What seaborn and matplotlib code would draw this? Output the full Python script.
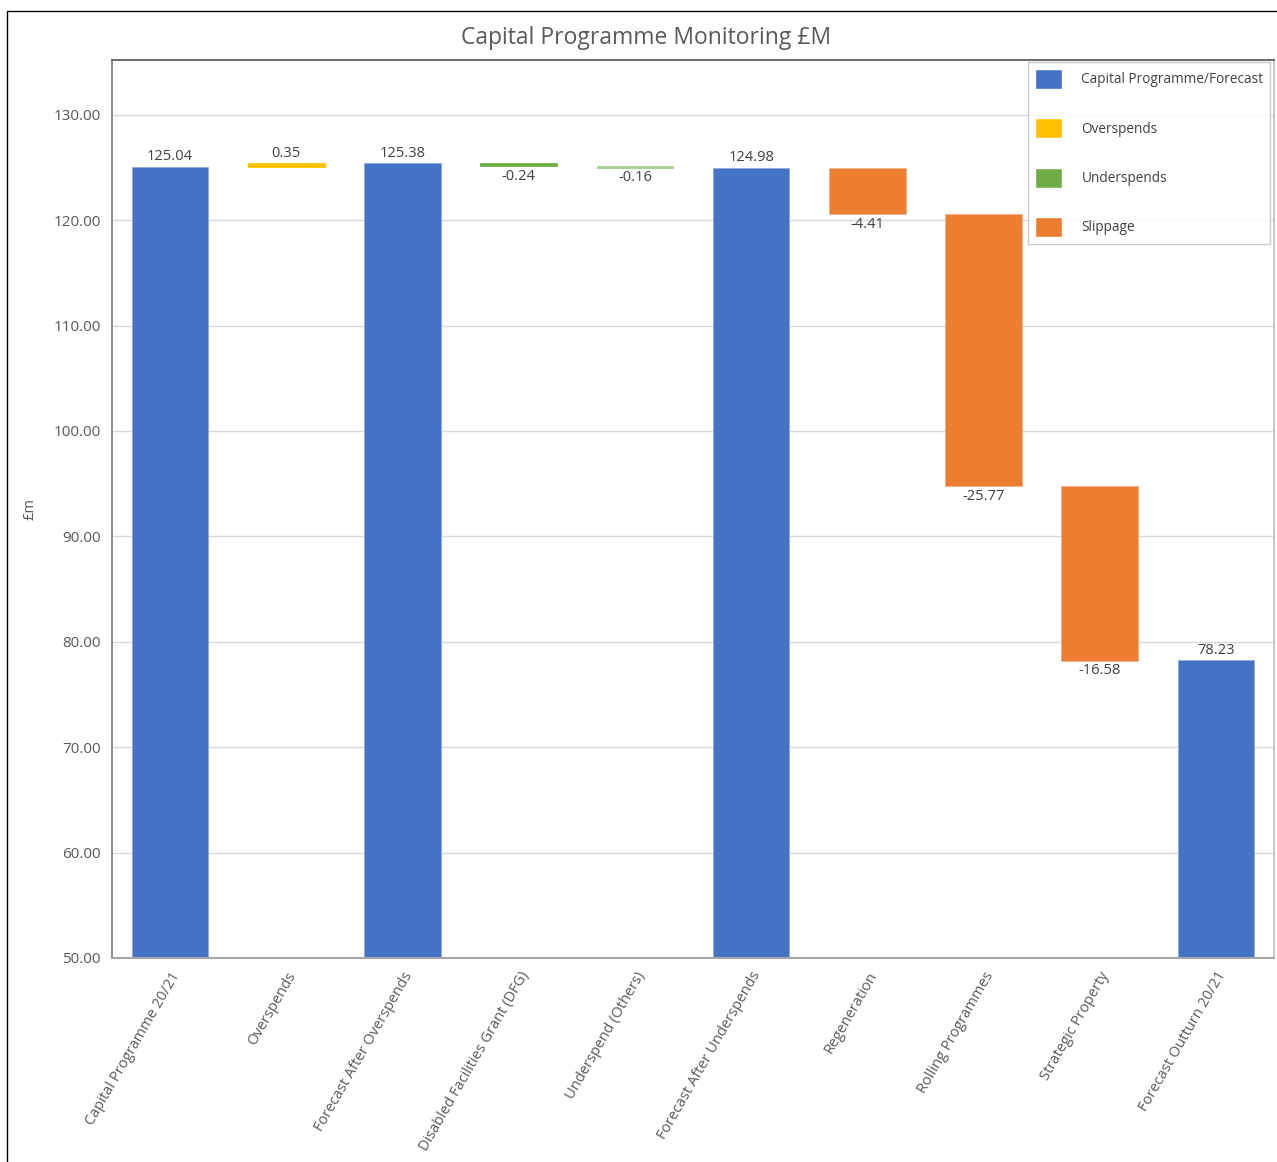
import matplotlib
matplotlib.use("Agg")
import matplotlib.pyplot as plt
from matplotlib.patches import Patch, Rectangle
import numpy as np
import pandas as pd
import seaborn as sns

# chart data
categories = ["Capital Programme 20/21", "Overspends", "Forecast After Overspends",
              "Disabled Facilities Grant (DFG)", "Underspend (Others)",
              "Forecast After Underspends", "Regeneration", "Rolling Programmes",
              "Strategic Property", "Forecast Outturn 20/21"]
amounts = [125.04, 0.35, 125.38, -0.24, -0.16, 124.98, -4.41, -25.77, -16.58, 78.23]
kinds = ["total", "over", "total", "under", "under", "total", "slip", "slip", "slip", "total"]
bar_colours = ["#4472C4", "#FFC000", "#4472C4", "#70AD47", "#A9D18E",
               "#4472C4", "#ED7D31", "#ED7D31", "#ED7D31", "#4472C4"]
legend_names = ["Capital Programme/Forecast", "Overspends", "Underspends", "Slippage"]
legend_colours = ["#4472C4", "#FFC000", "#70AD47", "#ED7D31"]
y_ticks = [50, 60, 70, 80, 90, 100, 110, 120, 130]

# waterfall bottoms from running level
bottoms = []
level = 0.0
for amt, kind in zip(amounts, kinds):
    if kind == "total":
        bottoms.append(0.0)
        level = amt
    else:
        bottoms.append(level)
        level += amt

df = pd.DataFrame({"category": categories, "amount": amounts, "kind": kinds})
df["total"] = np.where(df["kind"] == "total", df["amount"], np.nan)

sns.set_theme(style="white")
plt.rcParams["font.family"] = ["Open Sans", "DejaVu Sans"]

fig = plt.figure(figsize=(12.77, 11.62), dpi=100)
ax = fig.add_axes([0.0877, 0.1756, 0.910, 0.7728])

# totals through seaborn
sns.barplot(data=df, x="category", y="total", order=categories, color="#4472C4",
            width=0.66, errorbar=None, saturation=1, ax=ax,
            edgecolor="#8FAADC", linewidth=0.6)

# floating change bars
for i, (amt, kind, b) in enumerate(zip(amounts, kinds, bottoms)):
    if kind == "total":
        continue
    ax.bar(i, amt, bottom=b, width=0.66, color=bar_colours[i],
           edgecolor="#F4B183" if kind == "slip" else bar_colours[i], linewidth=0.6)

# value labels
for i, (amt, kind, b) in enumerate(zip(amounts, kinds, bottoms)):
    if kind == "total" or amt > 0:
        top = amt if kind == "total" else b + amt
        ax.annotate(f"{amt:.2f}", (i, top), xytext=(0, 2), textcoords="offset points",
                    ha="center", va="bottom", fontsize=10.5, color="#404040")
    else:
        ax.annotate(f"{amt:.2f}", (i, b + amt), xytext=(0, -2), textcoords="offset points",
                    ha="center", va="top", fontsize=10.5, color="#404040")

ax.set_xlim(-0.5, len(categories) - 0.5)
ax.set_ylim(50, 135.2)
ax.set_yticks(y_ticks)
ax.set_yticklabels([f"{t:.2f}" for t in y_ticks], fontsize=11, color="#595959")
ax.yaxis.grid(True, color="#D9D9D9", linewidth=1)
ax.set_axisbelow(True)
ax.tick_params(axis="both", length=0, pad=8)
ax.set_xticks(range(len(categories)))
ax.set_xticklabels(categories, rotation=60, ha="right", rotation_mode="anchor",
                   fontsize=10.5, color="#595959")
ax.set_xlabel("")
ax.set_ylabel("£m", fontsize=10.5, color="#595959")
ax.yaxis.set_label_coords(-0.064, 0.5)

ax.spines["top"].set_color("#595959")
ax.spines["left"].set_color("#808080")
ax.spines["bottom"].set_color("#A6A6A6")
ax.spines["bottom"].set_linewidth(1.5)
ax.spines["right"].set_color("#BFBFBF")

fig.text(0.506, 0.967, "Capital Programme Monitoring £M", fontsize=16.5,
         color="#595959", ha="center", va="center")

handles = [Patch(facecolor=c, edgecolor="white") for c in legend_colours]
leg = ax.legend(handles, legend_names, loc="upper right", bbox_to_anchor=(0.9966, 0.9978),
                borderaxespad=0, fontsize=9.8, frameon=True, fancybox=False,
                handlelength=2.0, handleheight=1.9, labelspacing=2.15,
                handletextpad=1.4, borderpad=0.5)
leg.get_frame().set_edgecolor("#BFBFBF")
leg.get_frame().set_linewidth(1)
for t in leg.get_texts():
    t.set_color("#404040")

# outer chart border (left and top visible in the reference)
fig.add_artist(Rectangle((7 / 1277, -0.1), 1.2, 1.1 - 11 / 1162,
                         transform=fig.transFigure, fill=False, edgecolor="black",
                         linewidth=1))

fig.savefig("out.png", dpi=100)
